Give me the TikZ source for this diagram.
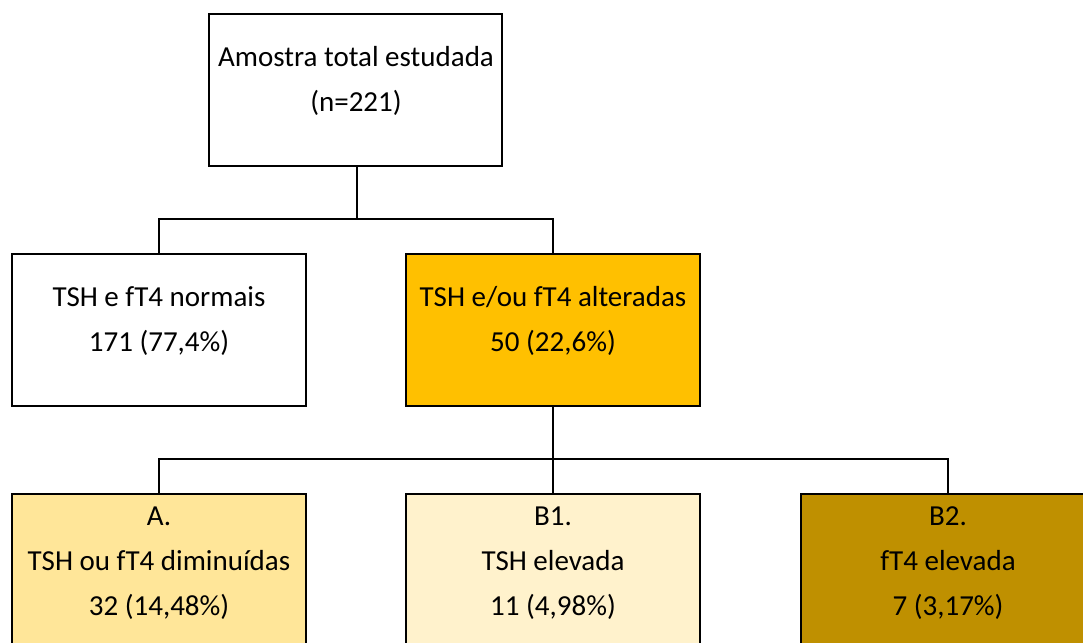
\documentclass[tikz,border=0pt]{standalone}
\usepackage{fontspec}
\setmainfont{Carlito}
\definecolor{cOrange}{HTML}{FFC000}
\definecolor{cLight}{HTML}{FFE699}
\definecolor{cPale}{HTML}{FFF2CC}
\definecolor{cDark}{HTML}{BF9000}
\begin{document}
\begin{tikzpicture}[x=1pt,y=-1pt,
  box/.style={draw=black,line width=2.6pt,minimum width=294pt,minimum height=152pt,anchor=north west,inner sep=0pt,outer sep=0pt},
  lbl/.style={align=center,font=\fontsize{29}{45}\selectfont,inner sep=0pt},
  conn/.style={draw=black,line width=2.6pt}]
\useasboundingbox (0,0) rectangle (1083,642);
\clip (0,0) rectangle (1083,642);
\node[box,fill=white,minimum width=293pt] (top) at (209,14) {};
\node[box,fill=white] (left) at (12,254) {};
\node[box,fill=cOrange] (mid) at (406,254) {};
\node[box,fill=cLight] (a) at (12,494) {};
\node[box,fill=cPale] (b1) at (406,494) {};
\node[box,fill=cDark] (b2) at (801,494) {};
\node[lbl] (ttop) at (356,81) {Amostra total estudada\\(n=221)};
\node[lbl] (tleft) at (159,321) {TSH e fT4 normais\\171 (77,4\%)};
\node[lbl] (tmid) at (553,321) {TSH e/ou fT4 alteradas\\50 (22,6\%)};
\node[lbl] (ta) at (159,563) {A.\\TSH ou fT4 diminuídas\\32 (14,48\%)};
\node[lbl] (tb1) at (553,563) {B1.\\TSH elevada\\11 (4,98\%)};
\node[lbl] (tb2) at (948,563) {B2.\\fT4 elevada\\7 (3,17\%)};
\coordinate (j1) at (357,219);
\coordinate (j2) at (553,459);
\draw[conn] (357,166) -- (j1);
\draw[conn] (j1) -| (left.north);
\draw[conn] (j1) -| (mid.north);
\draw[conn] (mid.south) -- (j2);
\draw[conn] (j2) -| (a.north);
\draw[conn] (j2) -- (b1.north);
\draw[conn] (j2) -| (b2.north);
\end{tikzpicture}
\end{document}
